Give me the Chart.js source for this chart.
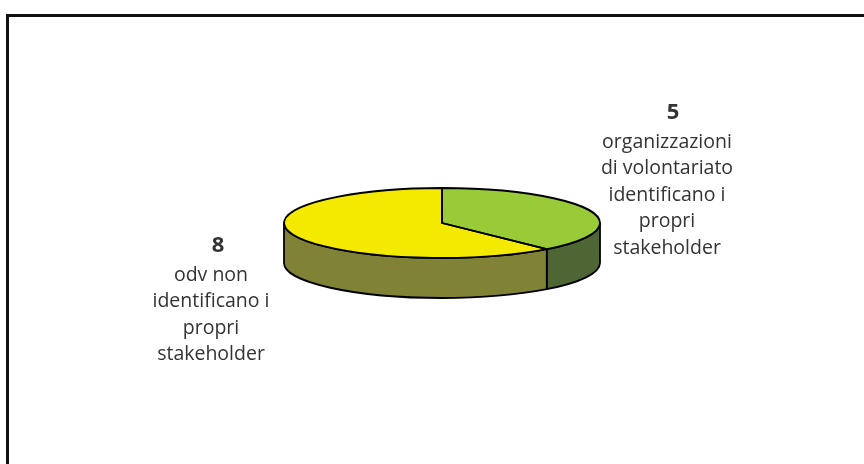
<!DOCTYPE html>
<html>
<head>
<meta charset="utf-8">
<title>Stakeholder</title>
<script src="https://cdn.jsdelivr.net/npm/chart.js@4.4.1/dist/chart.umd.min.js"></script>
<style>
    html, body {
        margin: 0;
        padding: 0;
        background: #ffffff;
        overflow: hidden;
    }
    #wrap {
        position: relative;
        width: 864px;
        height: 464px;
    }
    #frame {
        position: absolute;
        left: 6px;
        top: 14px;
        width: 900px;
        height: 500px;
        border: 3px solid #111111;
        box-sizing: border-box;
    }
    #chart {
        position: absolute;
        left: 0;
        top: 0;
    }
</style>
</head>
<body>
<div id="wrap">
    <div id="frame"></div>
    <canvas id="chart" width="864" height="464"></canvas>
</div>
<script>
// slice data
const categories = ["organizzazioni di volontariato identificano i propri stakeholder", "odv non identificano i propri stakeholder"];
const counts = [5, 8];
const labelLines = [
    ["organizzazioni", "di volontariato", "identificano i", "propri", "stakeholder"],
    ["odv non", "identificano i", "propri", "stakeholder"],
];

const topColors = ["#99cb38", "#f4ea00"];
const sideColors = ["#4e6634", "#808236"];

// flattening of the disc and thickness of the wall
const TILT = 35 / 158;
const DEPTH = 40;

const TEXT_FONT = "19.5px 'Open Sans', Lato, sans-serif";
const NUM_FONT = "bold 22px 'Open Sans', Lato, sans-serif";

// where each callout block sits: number centre and first text line
const calloutPos = [
    { numX: 673, numY: 113, x: 667, y: 142 },
    { numX: 218, numY: 246, x: 211, y: 275 },
];
const LINE_GAP = 26.5;

const getGeometry = (chart) => {
    const arc = chart.getDatasetMeta(0).data[0];
    const rx = arc.outerRadius;
    return { cx: arc.x, cy: arc.y, rx: rx, ry: rx * TILT };
};

// clip an angle range to the front half of the disc (0..PI, plus wrapped copy)
const frontParts = (start, end) => {
    const parts = [];
    [0, 2 * Math.PI].forEach((shift) => {
        const a = Math.max(start, shift);
        const b = Math.min(end, shift + Math.PI);
        if (b > a) parts.push([a, b]);
    });
    return parts;
};

const pie3d = {
    id: "pie3d",
    beforeDatasetsDraw(chart) {
        const ctx = chart.ctx;
        const g = getGeometry(chart);
        const arcs = chart.getDatasetMeta(0).data;

        // side walls
        arcs.forEach((arc, i) => {
            frontParts(arc.startAngle, arc.endAngle).forEach(([a, b]) => {
                ctx.beginPath();
                ctx.ellipse(g.cx, g.cy, g.rx, g.ry, 0, a, b);
                ctx.ellipse(g.cx, g.cy + DEPTH, g.rx, g.ry, 0, b, a, true);
                ctx.closePath();
                ctx.fillStyle = sideColors[i];
                ctx.fill();
                ctx.lineWidth = 1.8;
                ctx.strokeStyle = "#000000";
                ctx.lineJoin = "round";
                ctx.stroke();
            });
        });

        // squash the top face that Chart.js draws next
        ctx.save();
        ctx.translate(g.cx, g.cy);
        ctx.scale(1, TILT);
        ctx.translate(-g.cx, -g.cy);
    },
    afterDatasetsDraw(chart) {
        const ctx = chart.ctx;
        ctx.restore();

        const g = getGeometry(chart);
        const arcs = chart.getDatasetMeta(0).data;

        // outlines of the top face
        arcs.forEach((arc) => {
            ctx.beginPath();
            ctx.moveTo(g.cx, g.cy);
            ctx.ellipse(g.cx, g.cy, g.rx, g.ry, 0, arc.startAngle, arc.endAngle);
            ctx.closePath();
            ctx.lineWidth = 1.8;
            ctx.strokeStyle = "#000000";
            ctx.lineJoin = "round";
            ctx.stroke();
        });
    },
    afterDraw(chart) {
        const ctx = chart.ctx;
        ctx.save();
        ctx.textAlign = "center";
        ctx.textBaseline = "middle";
        ctx.fillStyle = "#333333";

        counts.forEach((value, i) => {
            const pos = calloutPos[i];
            ctx.font = NUM_FONT;
            ctx.fillText(String(value), pos.numX, pos.numY);

            ctx.font = TEXT_FONT;
            labelLines[i].forEach((line, k) => {
                ctx.fillText(line, pos.x, pos.y + k * LINE_GAP);
            });
        });
        ctx.restore();
    },
};

new Chart(document.getElementById("chart"), {
    type: "pie",
    data: {
        labels: categories,
        datasets: [
            {
                data: counts,
                backgroundColor: topColors,
                borderWidth: 0,
                hoverOffset: 0,
                clip: false,
            },
        ],
    },
    options: {
        responsive: false,
        devicePixelRatio: 1,
        animation: false,
        events: [],
        layout: {
            padding: { left: 284, right: 264, top: 65, bottom: 83 },
        },
        plugins: {
            legend: { display: false },
            tooltip: { enabled: false },
        },
    },
    plugins: [pie3d],
});
</script>
</body>
</html>
